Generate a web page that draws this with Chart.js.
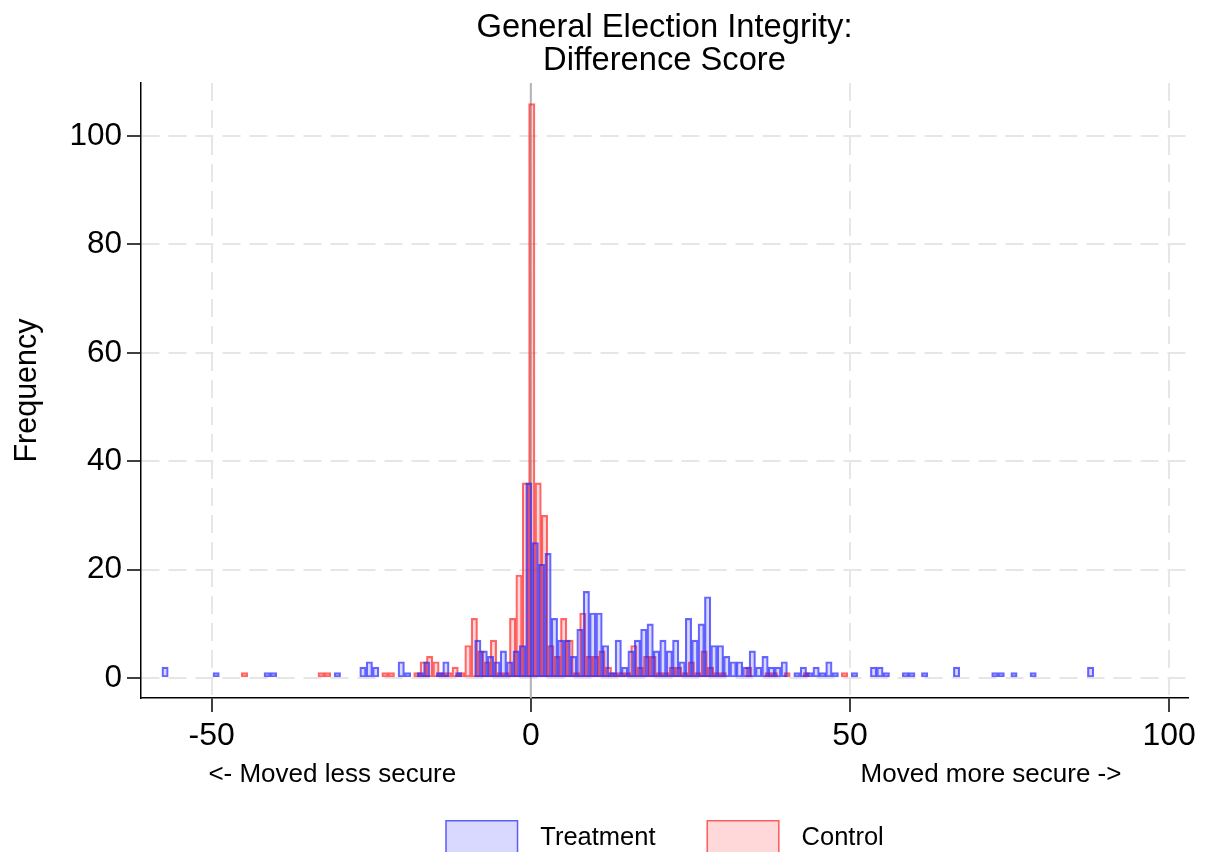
<!DOCTYPE html>
<html>
<head>
<meta charset="utf-8">
<script src="https://cdn.jsdelivr.net/npm/chart.js@4"></script>
<style>
  html, body { margin: 0; padding: 0; background: #fff; overflow: hidden; }
  canvas { display: block; }
</style>
</head>
<body>
<canvas id="chart" width="1205" height="852"></canvas>
<script>
// Title and series names
const titleLines = ['General Election Integrity:', 'Difference Score'];
const seriesNames = ['Treatment', 'Control'];

// Histogram bins (width 1): midpoint of each non-empty bin and its frequency
const treatmentBinMid = [
  -57.3, -49.3, -41.3, -40.3, -30.3, -26.3, -25.3, -24.3, -20.3, -19.3,
  -17.3, -16.3, -14.3, -13.3, -11.3, -8.3, -7.3, -6.3, -5.3, -4.3,
  -3.3, -2.3, -1.3, -0.3, 0.7, 1.7, 2.7, 3.7, 4.7, 5.7,
  6.7, 7.7, 8.7, 9.7, 10.7, 11.7, 12.7, 13.7, 14.7, 15.7,
  16.7, 17.7, 18.7, 19.7, 20.7, 21.7, 22.7, 23.7, 24.7, 25.7,
  26.7, 27.7, 28.7, 29.7, 30.7, 31.7, 32.7, 33.7, 34.7, 35.7,
  36.7, 37.7, 38.7, 39.7, 41.7, 42.7, 43.7, 44.7, 45.7, 46.7,
  47.7, 50.7, 53.7, 54.7, 55.7, 58.7, 59.7, 61.7, 66.7, 72.7,
  73.7, 75.7, 78.7, 87.7
];
const treatmentCount = [
  2, 1, 1, 1, 1, 2, 3, 2, 3, 1,
  1, 3, 1, 3, 1, 7, 5, 4, 3, 5,
  3, 5, 6, 36, 25, 21, 23, 11, 7, 7,
  4, 9, 16, 12, 12, 6, 1, 7, 2, 5,
  7, 9, 10, 5, 7, 5, 7, 3, 11, 7,
  10, 15, 6, 6, 4, 3, 3, 2, 5, 2,
  4, 2, 2, 3, 1, 2, 1, 2, 1, 3,
  1, 1, 2, 2, 1, 1, 1, 1, 2, 1,
  1, 1, 1, 2
];

const controlBinMid = [
  -44.85, -32.85, -31.85, -22.85, -21.85, -17.85, -16.85, -15.85, -14.85, -13.85,
  -12.85, -11.85, -10.85, -9.85, -8.85, -7.85, -6.85, -5.85, -4.85, -3.85,
  -2.85, -1.85, -0.85, 0.15, 1.15, 2.15, 3.15, 4.15, 5.15, 6.15,
  7.15, 8.15, 9.15, 10.15, 11.15, 12.15, 13.15, 14.15, 15.15, 16.15,
  17.15, 18.15, 19.15, 20.15, 21.15, 22.15, 23.15, 24.15, 25.15, 26.15,
  27.15, 28.15, 29.15, 30.15, 34.15, 37.15, 38.15, 40.15, 43.15, 49.15
];
const controlCount = [
  1, 1, 1, 1, 1, 1, 3, 4, 3, 1,
  1, 2, 1, 6, 11, 5, 3, 7, 1, 1,
  11, 19, 36, 106, 36, 30, 6, 4, 11, 7,
  1, 12, 4, 4, 5, 2, 1, 1, 1, 6,
  2, 4, 4, 1, 1, 2, 2, 1, 3, 1,
  5, 2, 1, 1, 2, 1, 1, 1, 1, 1
];

// Axis ticks and ranges
const xTickValues = [-50, 0, 50, 100];
const yTickValues = [0, 20, 40, 60, 80, 100];
const xRange = [-61.07, 102.96];
const yRange = [-3.69, 109.8];
const yTitle = 'Frequency';

// Direction notes under the x axis, anchored at x values
const directionNotes = [
  { text: '<- Moved less secure', at: -31.1 },
  { text: 'Moved more secure ->', at: 72.1 }
];

const FONT = '"Liberation Sans", Arial, Helvetica, sans-serif';
const colors = {
  treatment: { fill: 'rgba(0, 0, 255, 0.15)', line: 'rgba(40, 40, 255, 0.7)' },
  control:   { fill: 'rgba(255, 0, 0, 0.15)', line: 'rgba(255, 40, 40, 0.7)' }
};

const toPoints = (mids, counts) => mids.map((m, i) => ({ x: m, y: counts[i] }));

const gridCommon = {
  color: '#e6e6e6',
  lineWidth: 2,
  offset: false,
  tickLength: 14,
  tickColor: '#000',
  tickWidth: 1.5,
  tickBorderDash: []
};

const decor = {
  id: 'decor',
  beforeDatasetsDraw(chart) {
    const { ctx, chartArea: a, scales: { x } } = chart;
    const px = x.getPixelForValue(0);
    ctx.save();
    ctx.strokeStyle = '#b4b4b4';
    ctx.lineWidth = 2;
    ctx.beginPath();
    ctx.moveTo(px, a.top);
    ctx.lineTo(px, a.bottom);
    ctx.stroke();
    ctx.restore();
  },
  afterDraw(chart) {
    const { ctx, chartArea: a, scales: { x } } = chart;
    const cx = (a.left + a.right) / 2;
    ctx.save();
    ctx.fillStyle = '#000';
    ctx.textBaseline = 'middle';

    // Title
    ctx.textAlign = 'center';
    ctx.font = '32.7px ' + FONT;
    ctx.fillText(titleLines[0], cx, 28);
    ctx.fillText(titleLines[1], cx, 61);

    // Direction notes
    ctx.font = '26px ' + FONT;
    directionNotes.forEach(n => ctx.fillText(n.text, x.getPixelForValue(n.at), 775));

    // Legend
    ctx.font = '25.5px ' + FONT;
    const boxW = 73, boxH = 40, textGap = 22, itemGap = 51, boxTop = 820, textY = 838;
    const entries = [
      { name: seriesNames[0], c: colors.treatment },
      { name: seriesNames[1], c: colors.control }
    ];
    const widths = entries.map(e => ctx.measureText(e.name).width);
    const total = entries.length * (boxW + textGap) + widths.reduce((s, w) => s + w, 0) + itemGap * (entries.length - 1);
    let left = cx - total / 2;
    ctx.textAlign = 'left';
    entries.forEach((e, i) => {
      ctx.fillStyle = e.c.fill;
      ctx.fillRect(left, boxTop, boxW, boxH);
      ctx.strokeStyle = e.c.line;
      ctx.lineWidth = 1.5;
      ctx.strokeRect(left + 0.75, boxTop + 0.75, boxW - 1.5, boxH - 1.5);
      ctx.fillStyle = '#000';
      ctx.fillText(e.name, left + boxW + textGap, textY);
      left += boxW + textGap + widths[i] + itemGap;
    });
    ctx.restore();
  }
};

new Chart(document.getElementById('chart'), {
  type: 'bar',
  data: {
    datasets: [
      {
        label: seriesNames[0],
        data: toPoints(treatmentBinMid, treatmentCount),
        xAxisID: 'x',
        backgroundColor: colors.treatment.fill,
        borderColor: colors.treatment.line,
        borderWidth: 1.5,
        borderSkipped: false,
        barPercentage: 1,
        categoryPercentage: 1,
        grouped: false
      },
      {
        label: seriesNames[1],
        data: toPoints(controlBinMid, controlCount),
        xAxisID: 'x2',
        backgroundColor: colors.control.fill,
        borderColor: colors.control.line,
        borderWidth: 1.5,
        borderSkipped: false,
        barPercentage: 1,
        categoryPercentage: 1,
        grouped: false
      }
    ]
  },
  options: {
    responsive: false,
    animation: false,
    events: [],
    layout: { padding: { left: 0, right: 17, top: 83, bottom: 0 } },
    plugins: {
      legend: { display: false },
      title: { display: false },
      tooltip: { enabled: false }
    },
    scales: {
      x: {
        type: 'linear',
        position: 'bottom',
        offset: false,
        min: xRange[0],
        max: xRange[1],
        afterBuildTicks: s => { s.ticks = xTickValues.map(v => ({ value: v })); },
        afterFit: s => { s.height = 154; },
        ticks: {
          color: '#000',
          font: { family: FONT, size: 32 },
          padding: 5,
          maxRotation: 0,
          autoSkip: false
        },
        grid: gridCommon,
        border: { display: true, color: '#000', width: 1.5, dash: [18, 9] }
      },
      x2: {
        type: 'linear',
        display: false,
        offset: false,
        grid: { offset: false },
        min: xRange[0],
        max: xRange[1]
      },
      y: {
        type: 'linear',
        min: yRange[0],
        max: yRange[1],
        afterBuildTicks: s => { s.ticks = yTickValues.map(v => ({ value: v })); },
        afterFit: s => { s.width = 141; },
        ticks: {
          color: '#000',
          font: { family: FONT, size: 31.5 },
          padding: 5,
          autoSkip: false
        },
        grid: gridCommon,
        border: { display: true, color: '#000', width: 1.5, dash: [18, 9] },
        title: {
          display: true,
          text: yTitle,
          color: '#000',
          font: { family: FONT, size: 30.5 },
          padding: { top: 9, bottom: 0 }
        }
      }
    }
  },
  plugins: [decor]
});
</script>
</body>
</html>
